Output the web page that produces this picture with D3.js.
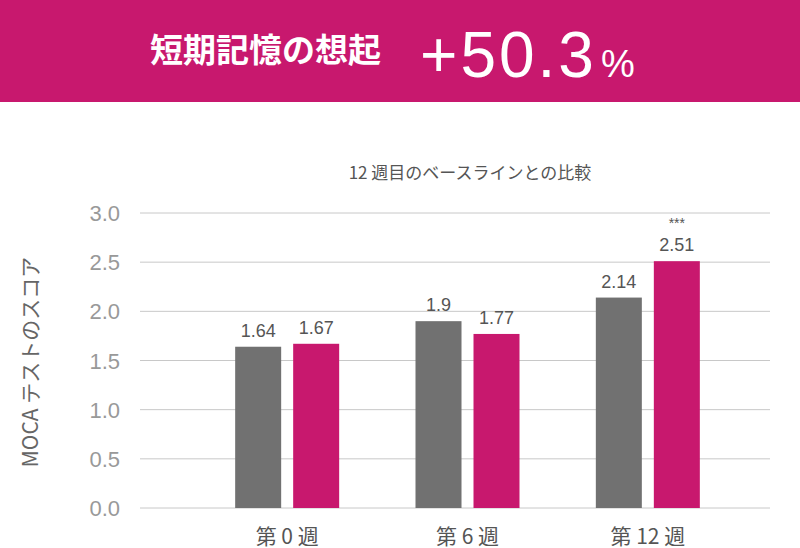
<!DOCTYPE html>
<html><head><meta charset="utf-8">
<script src="https://cdn.jsdelivr.net/npm/d3@7/dist/d3.min.js"></script>
<style>body{margin:0;background:#fff}</style></head>
<body><svg id="c" width="800" height="548"></svg>
<script>
const categories = ["第 0 週","第 6 週","第 12 週"];
const seriesA = [1.64, 1.9, 2.14];
const seriesB = [1.67, 1.77, 2.51];
const significance = ["", "", "***"];
const yTicks = [0,0.5,1,1.5,2,2.5,3];

const svg = d3.select("#c");
const font = "'Noto Sans CJK JP','Noto Sans',sans-serif";
const num = "'Liberation Sans',Arial,sans-serif";
svg.append("rect").attr("x",0).attr("y",0).attr("width",800).attr("height",102).attr("fill","#C8186E");
svg.append("text").attr("x",150).attr("y",62).attr("fill","#fff").attr("font-family",font)
  .attr("font-weight","bold").attr("font-size",33).text("短期記憶の想起");
const t = svg.append("text").attr("x",420).attr("y",77).attr("fill","#fff").attr("font-family",num);
t.append("tspan").attr("font-size",64).attr("letter-spacing",3).text("+50.3");
t.append("tspan").attr("font-size",38).attr("dx",4).text("%");

svg.append("text").attr("x",470).attr("y",179).attr("text-anchor","middle").attr("fill","#555")
  .attr("font-family",font).attr("font-size",17).text("12 週目のベースラインとの比較");

const y = d3.scaleLinear().domain([0,3]).range([508,213]);
const x = d3.scaleBand().domain(categories).range([197,738]).paddingInner(0);
const g = svg.append("g");
g.selectAll("line.grid").data(yTicks).join("line").attr("x1",140).attr("x2",770)
  .attr("y1",d=>y(d)).attr("y2",d=>y(d)).attr("stroke","#c8c8c8").attr("stroke-width",1);
g.selectAll("text.yt").data(yTicks).join("text").attr("x",120).attr("y",d=>y(d)+8)
  .attr("text-anchor","end").attr("fill","#999").attr("font-family",num).attr("font-size",22).text(d=>d.toFixed(1));
svg.append("text").attr("transform","translate(38,362) rotate(-90)").attr("text-anchor","middle")
  .attr("fill","#666").attr("font-family",font).attr("font-size",21).text("MOCA テストのスコア");

const bw=46, gap=12;
categories.forEach((c,i)=>{
  const cx = x(c)+x.bandwidth()/2;
  const xa = cx-gap/2-bw, xb = cx+gap/2;
  g.append("rect").attr("x",xa).attr("y",y(seriesA[i])).attr("width",bw).attr("height",y(0)-y(seriesA[i])).attr("fill","#717171");
  g.append("rect").attr("x",xb).attr("y",y(seriesB[i])).attr("width",bw).attr("height",y(0)-y(seriesB[i])).attr("fill","#C8186E");
  g.append("text").attr("x",xa+bw/2).attr("y",y(seriesA[i])-10).attr("text-anchor","middle").attr("fill","#555")
    .attr("font-family",num).attr("font-size",18).text(seriesA[i]);
  g.append("text").attr("x",xb+bw/2).attr("y",y(seriesB[i])-10).attr("text-anchor","middle").attr("fill","#555")
    .attr("font-family",num).attr("font-size",18).text(seriesB[i]);
  if(significance[i]) g.append("text").attr("x",xb+bw/2).attr("y",y(seriesB[i])-33).attr("text-anchor","middle")
    .attr("fill","#555").attr("font-family",num).attr("font-size",14).text(significance[i]);
  g.append("text").attr("x",cx).attr("y",544).attr("text-anchor","middle").attr("fill","#555")
    .attr("font-family",font).attr("font-size",21).text(c);
});
</script></body></html>
